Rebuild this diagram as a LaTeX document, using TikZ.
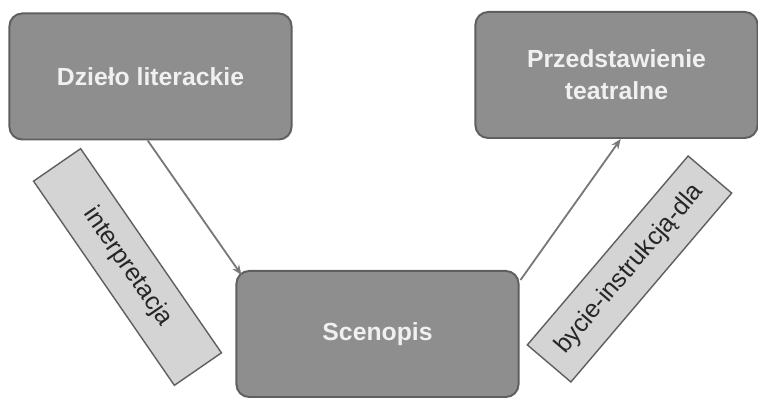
\documentclass[tikz,border=0pt]{standalone}
\usepackage{fontspec}
\setmainfont{Liberation Sans}
\usepackage{tikz}
\usetikzlibrary{arrows.meta, positioning, calc}
\usepackage{xcolor}
\definecolor{tilegray}{RGB}{142,142,142}
\definecolor{edgegray}{RGB}{95,95,95}
\definecolor{taggray}{RGB}{212,212,212}
\definecolor{textlight}{RGB}{240,240,240}
\definecolor{linkgray}{RGB}{120,120,120}

\begin{document}
\begin{tikzpicture}[x=0.025cm, y=-0.025cm,
        tile/.style={rectangle, draw=edgegray, line width=1.4pt, fill=tilegray, rounded corners=9pt,
                     minimum width=7.05cm, minimum height=3.15cm, align=center, text=textlight,
                     font=\fontsize{17.6}{22.8}\selectfont\bfseries},
        tag/.style={rectangle, draw=edgegray, line width=1pt, fill=taggray, inner sep=0pt,
                    minimum width=6.2cm, minimum height=1.43cm, text=black!85,
                    font=\fontsize{17.8}{21}\selectfont},
        arrow/.style={-{Stealth[length=2.5mm, width=2mm]}, line width=1.3pt, linkgray}
    ]
        \useasboundingbox (0,0) rectangle (758,398);

        \node[tile] (dzielo) at (150.5,76.5) {Dzieło literackie};
        \node[tile] (przed) at (616.5,75) {Przedstawienie\\teatralne};
        \node[tile] (scen) at (377.5,334) {Scenopis};

        % etykiety przy strzałkach
        \node[tag, rotate=-55.4] (interp) at (127.5,267) {interpretacja};
        \node[tag, rotate=49.6] (instr) at (629.5,269) {bycie-instrukcją-dla};

        \draw[arrow] ([xshift=-2]dzielo.south) -- ([shift={(6,5)}]scen.north west);
        \draw[arrow] ([shift={(1,10)}]scen.north east) -- ([xshift=3]przed.south);
    \end{tikzpicture}
\end{document}
